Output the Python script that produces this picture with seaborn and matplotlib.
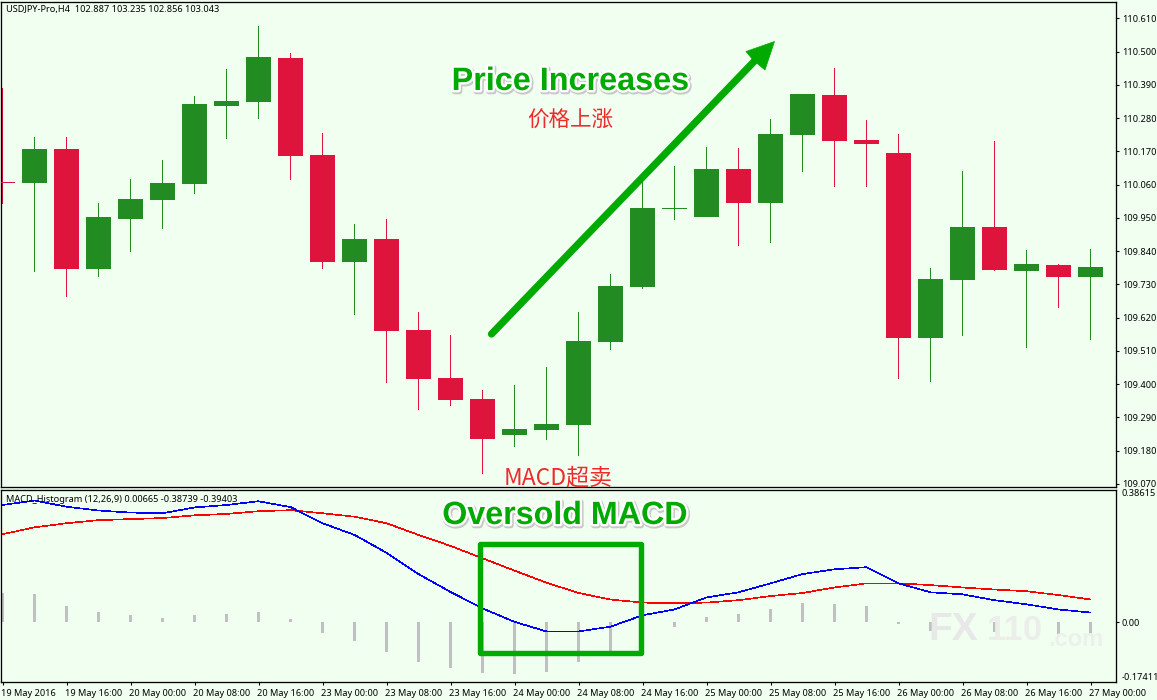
import numpy as np
import pandas as pd
import seaborn as sns
import matplotlib
matplotlib.use("Agg")
import matplotlib.pyplot as plt
import matplotlib.patches as mpatches
import matplotlib.lines as mlines
import matplotlib.patheffects as pe
from matplotlib.transforms import Affine2D, ScaledTranslation

# ---- data ----
high_p = [110.380,110.218,110.218,109.999,110.079,110.141,110.353,110.443,110.585,110.496,110.231,109.930,109.946,109.638,109.562,109.380,109.396,109.456,109.638,109.764,110.075,110.122,110.185,110.181,110.277,110.360,110.446,110.274,110.228,109.784,110.105,110.204,109.843,109.797,109.847]
low_p = [109.996,109.771,109.688,109.754,109.837,109.913,110.029,110.211,110.277,110.075,109.781,109.628,109.403,109.314,109.327,109.102,109.191,109.214,109.161,109.512,109.714,109.943,109.953,109.857,109.867,110.102,110.052,110.052,109.416,109.406,109.559,109.774,109.519,109.651,109.545]
open_p = [110.069,110.065,110.178,109.781,109.946,110.009,110.062,110.320,110.334,110.479,110.158,109.804,109.880,109.578,109.420,109.350,109.231,109.247,109.264,109.539,109.721,109.979,109.953,110.112,109.999,110.224,110.357,110.208,110.165,109.552,109.744,109.920,109.774,109.794,109.754]
close_p = [110.065,110.178,109.781,109.953,110.012,110.065,110.327,110.337,110.482,110.155,109.804,109.880,109.575,109.416,109.347,109.218,109.251,109.267,109.542,109.724,109.982,109.982,110.112,109.999,110.228,110.360,110.204,110.194,109.552,109.747,109.920,109.777,109.797,109.754,109.787]

macd_line = [.341,.354,.336,.325,.319,.317,.334,.341,.352,.335,.288,.254,.202,.140,.088,.040,.001,-.027,-.027,-.013,.020,.037,.072,.087,.113,.140,.154,.160,.113,.087,.081,.064,.052,.037,.028]
signal_line = [.256,.276,.288,.297,.300,.303,.311,.315,.323,.326,.317,.307,.288,.254,.222,.186,.150,.115,.085,.066,.057,.055,.057,.064,.076,.085,.101,.113,.113,.108,.101,.095,.090,.079,.066]
hist_bars = [.085,.082,.047,.029,.020,.012,.020,.023,.029,.009,-.032,-.055,-.088,-.117,-.134,-.149,-.152,-.146,-.117,-.088,-.040,-.015,.015,.023,.038,.055,.053,.047,-.006,-.025,-.012,-.030,-.032,-.035,-.033]

price_ticks = [110.61,110.50,110.39,110.28,110.17,110.06,109.95,109.84,109.73,109.62,109.51,109.40,109.29,109.18,109.07]
macd_ticks = [0.38615, 0.0, -0.17411]
macd_tick_labels = ["0.38615", "0.00", "-0.17411"]
time_labels = ["19 May 2016","19 May 16:00","20 May 00:00","20 May 08:00","20 May 16:00","23 May 00:00",
               "23 May 08:00","23 May 16:00","24 May 00:00","24 May 08:00","24 May 16:00","25 May 00:00",
               "25 May 08:00","25 May 16:00","26 May 00:00","26 May 08:00","26 May 16:00","27 May 00:00"]

BG = "#F0FFF0"; UP = "#228B22"; DOWN = "#DF143C"; ANN = "#00AA00"; CN = "#EE2A2A"

sns.set_theme(style="white")
plt.rcParams["font.family"] = ["Noto Sans", "DejaVu Sans"]
W, H = 1157, 700
fig = plt.figure(figsize=(W/100, H/100), dpi=100, facecolor=BG)
px = Affine2D().scale(1, -1).translate(0, H)   # annotation layer in image pixels

def axes_box(l, t, r, b):
    return [l/W, 1 - b/H, (r-l)/W, (b-t)/H]

ax = fig.add_axes(axes_box(1, 1.5, 1115.5, 487), facecolor=BG)
ax2 = fig.add_axes(axes_box(1, 489.5, 1115.5, 682), facecolor=BG)

n = len(open_p)
idx = np.arange(n)
o, c, hi, lo = map(np.array, (open_p, close_p, high_p, low_p))
up = c >= o
colors = [UP if u else DOWN for u in up]
ax.bar(idx, hi - lo, bottom=lo, width=1.05/32, color=colors, linewidth=0, antialiased=False, zorder=2)
body_lo = np.minimum(o, c)
body_h = np.maximum(np.abs(c - o), 0.0033)
ax.bar(idx, body_h, bottom=body_lo, width=25/32, color=colors, linewidth=0, antialiased=False, zorder=3)
ax.set_xlim(-0.047, 34.78)
ax.set_ylim(109.0595, 110.6655)

frame = pd.DataFrame({"bar": idx, "macd": macd_line, "signal": signal_line, "hist": hist_bars})
sns.barplot(data=frame, x="bar", y="hist", native_scale=True, width=3/32, color="#C0C0C0",
            saturation=1, linewidth=0, antialiased=False, ax=ax2, zorder=1)
sns.lineplot(data=frame, x="bar", y="signal", color="#FF0000", linewidth=0.45, antialiased=False,
             errorbar=None, ax=ax2, zorder=3)
sns.lineplot(data=frame, x="bar", y="macd", color="#0000FF", linewidth=0.45, antialiased=False,
             errorbar=None, ax=ax2, zorder=3)
ax2.set_xlim(-0.047, 34.78)
ax2.set_ylim(-0.17411, 0.38615)
ax2.set_xlabel(""); ax2.set_ylabel("")

for a in (ax, ax2):
    for s in a.spines.values():
        s.set_visible(True); s.set_color("black"); s.set_linewidth(0.95)
    a.yaxis.tick_right()
    a.grid(False)

ax.set_xticks([])
ax.set_yticks(price_ticks)
ax.set_yticklabels([f"{v:.3f}" for v in price_ticks])
ax.tick_params(axis="y", right=True, length=2, width=0.8, pad=2.5, labelsize=6.6, colors="black")

ax2.set_xticks(idx[::2])
ax2.set_xticklabels(time_labels, ha="left")
ax2.tick_params(axis="x", bottom=True, length=2.4, width=0.8, pad=2.4, labelsize=6.6, colors="black")
ax2.set_yticks(macd_ticks)
ax2.set_yticklabels(macd_tick_labels)
ax2.tick_params(axis="y", right=True, length=2, width=0.8, pad=2.5, labelsize=6.6, colors="black")
yt = ax2.yaxis.get_major_ticks()
yt[0].tick2line.set_visible(False); yt[2].tick2line.set_visible(False)
yt[0].label2.set_va("top"); yt[2].label2.set_va("bottom")
shift = ScaledTranslation(-1.5/100, 0, fig.dpi_scale_trans)
for t in ax2.get_xticklabels():
    t.set_transform(t.get_transform() + shift)

# watermark
fig.text(928, 630, "FX", transform=px, fontsize=28, fontweight="bold", family="Liberation Sans",
         color="#E8E8E8", va="center", ha="left", zorder=2)
fig.text(987, 630, "110", transform=px, fontsize=25, fontweight="bold", family="Liberation Sans",
         color="#ECEEEA", va="center", ha="left", zorder=2)
fig.text(1048, 639, ".com", transform=px, fontsize=17, fontweight="bold", family="Liberation Sans",
         color="#ECF1EA", va="center", ha="left", zorder=2)

# captions
fig.text(6, 9.5, "USDJPY-Pro,H4  102.887 103.235 102.856 103.043", transform=px, fontsize=6.6,
         color="black", va="center", ha="left", zorder=8)
fig.text(6, 499, "MACD_Histogram (12,26,9) 0.00665 -0.38739 -0.39403", transform=px, fontsize=6.6,
         color="black", va="center", ha="left", zorder=8)

fx = [pe.Stroke(linewidth=4.2, foreground="#C8C8C8", offset=(0.7, -1.0)),
      pe.Stroke(linewidth=3.4, foreground="white"), pe.Normal()]
fig.text(570.5, 82, "Price Increases", transform=px, fontsize=23.3, fontweight="bold", family="Liberation Sans",
         color=ANN, ha="center", va="center", path_effects=fx, zorder=8)
fig.text(565, 516, "Oversold MACD", transform=px, fontsize=23.2, fontweight="bold", family="Liberation Sans",
         color=ANN, ha="center", va="center", path_effects=fx, zorder=8)
fig.text(570, 121, "价格上涨", transform=px, fontsize=15.5, family=["Noto Sans CJK SC", "DejaVu Sans"],
         color=CN, ha="center", va="center", zorder=8)
fig.text(558.5, 477.5, "MACD超卖", transform=px, fontsize=16.5, family=["Noto Sans CJK SC", "DejaVu Sans"],
         color=CN, ha="center", va="center", zorder=8)

# arrow and box
fig.add_artist(mlines.Line2D([491.5, 755], [334, 60.5], transform=px, color=ANN, linewidth=5.2,
                             solid_capstyle="round", zorder=7))
fig.add_artist(mpatches.Polygon([[774.5, 41.5], [746, 51.5], [753, 60], [765, 70]], closed=True, transform=px,
                                facecolor=ANN, edgecolor=ANN, linewidth=0.5, zorder=7))
fig.add_artist(mpatches.Rectangle((480, 544), 161, 108.5, transform=px, fill=False, edgecolor=ANN,
                                  linewidth=3.9, joinstyle="round", zorder=7))

fig.savefig("out.png", dpi=100, facecolor=BG)
